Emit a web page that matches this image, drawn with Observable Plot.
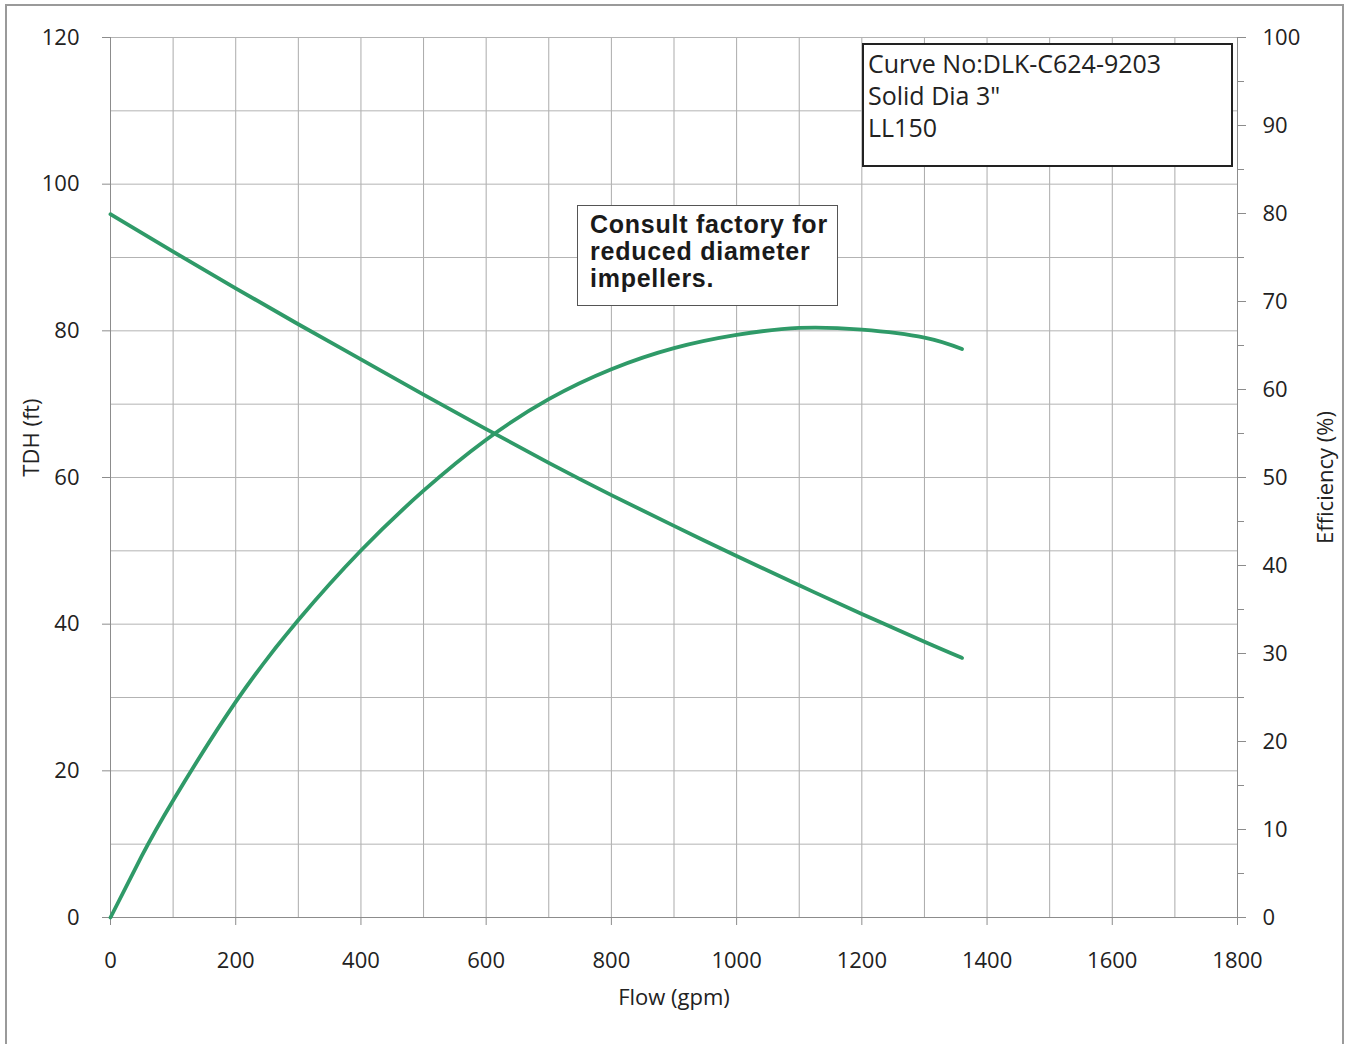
<!DOCTYPE html>
<html>
<head>
<meta charset="utf-8">
<script src="https://cdn.jsdelivr.net/npm/d3@7"></script>
<script src="https://cdn.jsdelivr.net/npm/@observablehq/plot@0.6"></script>
<style>
  html, body { margin: 0; padding: 0; background: #fff; }
  #wrap { position: relative; width: 1347px; height: 1044px; overflow: hidden; background: #fff; }
  #frame { position: absolute; left: 5px; top: 4px; width: 1339px; height: 1060px; border: 2.5px solid #9a9a9a; box-sizing: border-box; pointer-events: none; }
  .box1 { position: absolute; left: 862px; top: 43px; width: 371px; height: 124px; border: 2px solid #222; box-sizing: border-box; background: #fff;
          font-family: "Open Sans", sans-serif; font-size: 25px; line-height: 32px; color: #222; padding: 2px 0 0 4px; white-space: nowrap; }
  .box2 { position: absolute; left: 577px; top: 205px; width: 261px; height: 101px; border: 1px solid #555; box-sizing: border-box; background: #fff;
          font-family: "Liberation Sans", Arial, sans-serif; font-weight: bold; font-size: 25px; line-height: 27px; letter-spacing: 0.75px; color: #1a1a1a; padding: 5px 0 0 12px; white-space: nowrap; }
</style>
</head>
<body>
<div id="wrap"></div>
<script>
// ---- data ----
const headFlow = [0, 100, 200, 300, 400, 500, 600, 700, 800, 900, 1000, 1100, 1200, 1300, 1360];
const headFt   = [95.9, 90.8, 85.8, 80.9, 76.1, 71.3, 66.6, 62.0, 57.6, 53.4, 49.3, 45.3, 41.4, 37.6, 35.4];
const effFlow  = [0, 50, 100, 200, 300, 400, 500, 600, 700, 800, 900, 1000, 1100, 1200, 1300, 1360];
const effPct   = [0, 7.0, 13.3, 24.5, 33.8, 41.7, 48.5, 54.3, 58.9, 62.3, 64.7, 66.2, 67.0, 66.8, 65.9, 64.6];

const xTicks     = [0, 200, 400, 600, 800, 1000, 1200, 1400, 1600, 1800];
const xGrid      = [0, 100, 200, 300, 400, 500, 600, 700, 800, 900, 1000, 1100, 1200, 1300, 1400, 1500, 1600, 1700, 1800];
const yTicks     = [0, 20, 40, 60, 80, 100, 120];
const yGrid      = [0, 10, 20, 30, 40, 50, 60, 70, 80, 90, 100, 110, 120];
const effTicks   = [0, 10, 20, 30, 40, 50, 60, 70, 80, 90, 100];
const effMinor   = [5, 15, 25, 35, 45, 55, 65, 75, 85, 95];

const curveBox = ["Curve No:DLK-C624-9203", "Solid Dia 3\"", "LL150"];
const noteBox  = ["Consult factory for", "reduced diameter", "impellers."];

// efficiency (0-100 %) shares the 0-120 ft pixel range
const EFF_K = 120 / 100;

const headData = headFlow.map((f, i) => ({flow: f, v: headFt[i]}));
const effData  = effFlow.map((f, i) => ({flow: f, v: effPct[i] * EFF_K}));

const green = "#2f9a68";
const font = "'Open Sans', sans-serif";

const chart = Plot.plot({
  width: 1347,
  height: 1044,
  marginLeft: 110,
  marginRight: 110,
  marginTop: 37,
  marginBottom: 127,
  x: {domain: [0, 1800]},
  y: {domain: [0, 120]},
  style: {fontFamily: font, fontSize: "22px", color: "#222", background: "transparent", overflow: "visible"},
  marks: [
    Plot.gridX(xGrid, {stroke: "#ababab", strokeOpacity: 1, strokeWidth: 1}),
    Plot.gridY(yGrid, {stroke: "#b3b3b3", strokeOpacity: 1, strokeWidth: 1}),
    Plot.ruleY([0], {stroke: "#8c8c8c", strokeWidth: 1.2}),
    Plot.ruleX([0], {stroke: "#8c8c8c", strokeWidth: 1}),
    Plot.ruleX([1800], {stroke: "#8c8c8c", strokeWidth: 1}),
    Plot.axisX(xTicks, {anchor: "bottom", tickSize: 8, tickPadding: 27, stroke: "#8c8c8c", label: null, tickFormat: d => String(d), fill: "#222"}),
    Plot.axisY(yTicks, {anchor: "left", tickSize: 8, tickPadding: 23, stroke: "#8c8c8c", label: null, tickFormat: d => String(d), fill: "#222"}),
    Plot.axisY(effMinor.map(e => e * EFF_K), {anchor: "right", tickSize: 6, stroke: "#8c8c8c", label: null, tickFormat: () => ""}),
    Plot.axisY(effTicks.map(e => e * EFF_K), {anchor: "right", tickSize: 8, tickPadding: 17, stroke: "#8c8c8c", label: null, tickFormat: d => String(Math.round(d / EFF_K)), fill: "#222"}),
    Plot.line(headData, {x: "flow", y: "v", stroke: green, strokeWidth: 3.8, curve: "natural"}),
    Plot.line(effData, {x: "flow", y: "v", stroke: green, strokeWidth: 3.8, curve: "natural"}),
    Plot.text(["TDH (ft)"], {frameAnchor: "left", textAnchor: "middle", dx: -79, dy: -40, rotate: -90, fontSize: 22, fill: "#222"}),
    Plot.text(["Efficiency (%)"], {frameAnchor: "right", textAnchor: "middle", dx: 88, rotate: -90, fontSize: 22, fill: "#222"}),
    Plot.text(["Flow (gpm)"], {frameAnchor: "bottom", dy: 87, fontSize: 22, fill: "#222"})
  ]
});

const wrap = document.getElementById("wrap");
wrap.appendChild(chart);

const frame = document.createElement("div");
frame.id = "frame";
wrap.appendChild(frame);

const b1 = document.createElement("div");
b1.className = "box1";
curveBox.forEach(t => { const d = document.createElement("div"); d.textContent = t; b1.appendChild(d); });
wrap.appendChild(b1);

const b2 = document.createElement("div");
b2.className = "box2";
noteBox.forEach(t => { const d = document.createElement("div"); d.textContent = t; b2.appendChild(d); });
wrap.appendChild(b2);
</script>
</body>
</html>
